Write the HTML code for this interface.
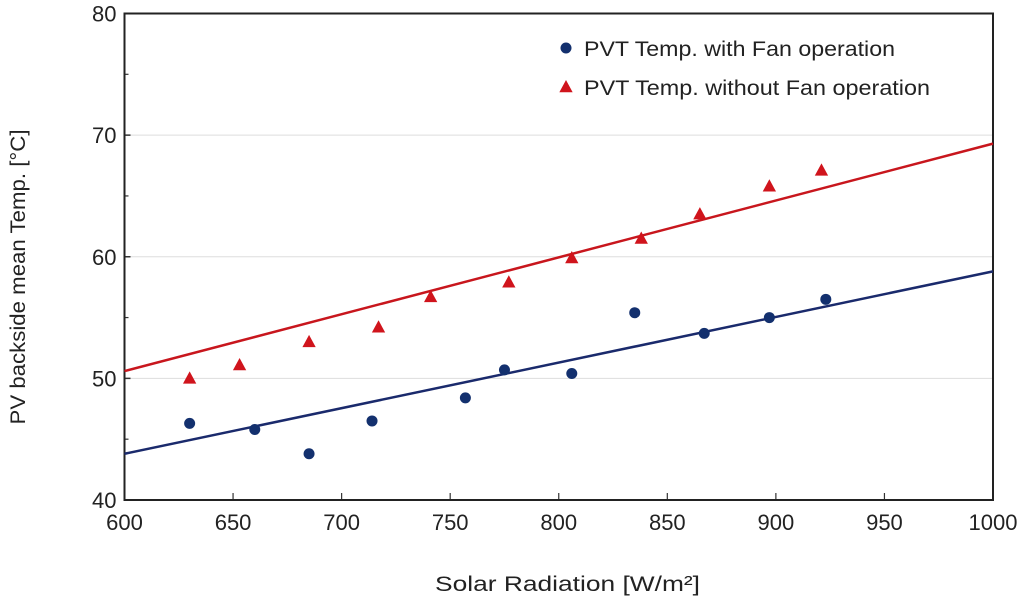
<!DOCTYPE html>
<html><head><meta charset="utf-8"><style>
body{margin:0;background:#fff;font-family:"Liberation Sans",Arial,sans-serif}
svg text{font-family:"Liberation Sans",Arial,sans-serif;fill:#222}
</style></head><body>
<svg id="chart" width="1024" height="605" viewBox="0 0 1024 605" xmlns="http://www.w3.org/2000/svg"></svg>
<script>
const xTicks=[600,650,700,750,800,850,900,950,1000];
const yTicks=[40,50,60,70,80];
const fanX=[630,660,685,714,757,775,806,835,867,897,923];
const fanY=[46.3,45.8,43.8,46.5,48.4,50.7,50.4,55.4,53.7,55.0,56.5];
const noFanX=[630,653,685,717,741,777,806,838,865,897,921];
const noFanY=[50.0,51.1,53.0,54.2,56.7,57.9,59.9,61.5,63.5,65.8,67.1];
const fanFit=[43.8,58.8];
const noFanFit=[50.6,69.3];
const L=124.5,R=993,T=13.5,B=500;
const X=v=>L+(v-600)/400*(R-L);
const Y=v=>B-(v-40)/40*(B-T);
const svg=document.getElementById('chart');
const NS='http://www.w3.org/2000/svg';
function mk(tag,attrs,parent){const e=document.createElementNS(NS,tag);for(const k in attrs)e.setAttribute(k,attrs[k]);(parent||svg).appendChild(e);return e;}
yTicks.forEach(v=>{if(v>40&&v<80){const g=mk('line',{x1:L,x2:R,y1:Y(v),y2:Y(v),stroke:'#ddd','stroke-width':1});

}});
yTicks.forEach(v=>{const t=mk('text',{x:L-8,y:Y(v)+8,'text-anchor':'end','font-size':22});t.textContent=v;


mk('line',{x1:L,x2:L+6,y1:Y(v),y2:Y(v),stroke:'#333','stroke-width':1.5});
if(v<80)mk('line',{x1:L,x2:L+4,y1:Y(v+5),y2:Y(v+5),stroke:'#333','stroke-width':1.2});});
xTicks.forEach(v=>{const t=mk('text',{x:X(v),y:B+30,'text-anchor':'middle','font-size':22});t.textContent=v;


mk('line',{x1:X(v),x2:X(v),y1:B,y2:B-7,stroke:'#333','stroke-width':1.2});});
const frame=mk('rect',{x:L,y:T,width:R-L,height:B-T,fill:'none',stroke:'#222','stroke-width':2});


const f1=mk('line',{x1:X(600),x2:X(1000),y1:Y(fanFit[0]),y2:Y(fanFit[1]),stroke:'#1a2a6c','stroke-width':2.5});


const f2=mk('line',{x1:X(600),x2:X(1000),y1:Y(noFanFit[0]),y2:Y(noFanFit[1]),stroke:'#c8161d','stroke-width':2.5});


function tri(cx,cy,s){return `${cx},${cy-s} ${cx-s*0.95},${cy+s*0.75} ${cx+s*0.95},${cy+s*0.75}`;}
fanX.forEach((x,i)=>{const c=mk('circle',{cx:X(x),cy:Y(fanY[i]),r:5.5,fill:'#13306e'});

});
noFanX.forEach((x,i)=>{const p=mk('polygon',{points:tri(X(x),Y(noFanY[i]),7),fill:'#d0141c'});

});
const lc=mk('circle',{cx:566,cy:48,r:5.5,fill:'#13306e'});


const lt1=mk('text',{x:584,y:56,'font-size':21,textLength:311,lengthAdjust:'spacingAndGlyphs'});lt1.textContent='PVT Temp. with Fan operation';


const lp=mk('polygon',{points:tri(566,87,7),fill:'#d0141c'});


const lt2=mk('text',{x:584,y:95,'font-size':21,textLength:346,lengthAdjust:'spacingAndGlyphs'});lt2.textContent='PVT Temp. without Fan operation';


const xt=mk('text',{x:435,y:591,'font-size':21,textLength:265,lengthAdjust:'spacingAndGlyphs'});xt.textContent='Solar Radiation [W/m²]';


const yt=mk('text',{x:0,y:0,'text-anchor':'middle','font-size':21,textLength:295,lengthAdjust:'spacingAndGlyphs',transform:'translate(25,277) rotate(-90)'});yt.textContent='PV backside mean Temp. [°C]';


</script>
</body></html>
